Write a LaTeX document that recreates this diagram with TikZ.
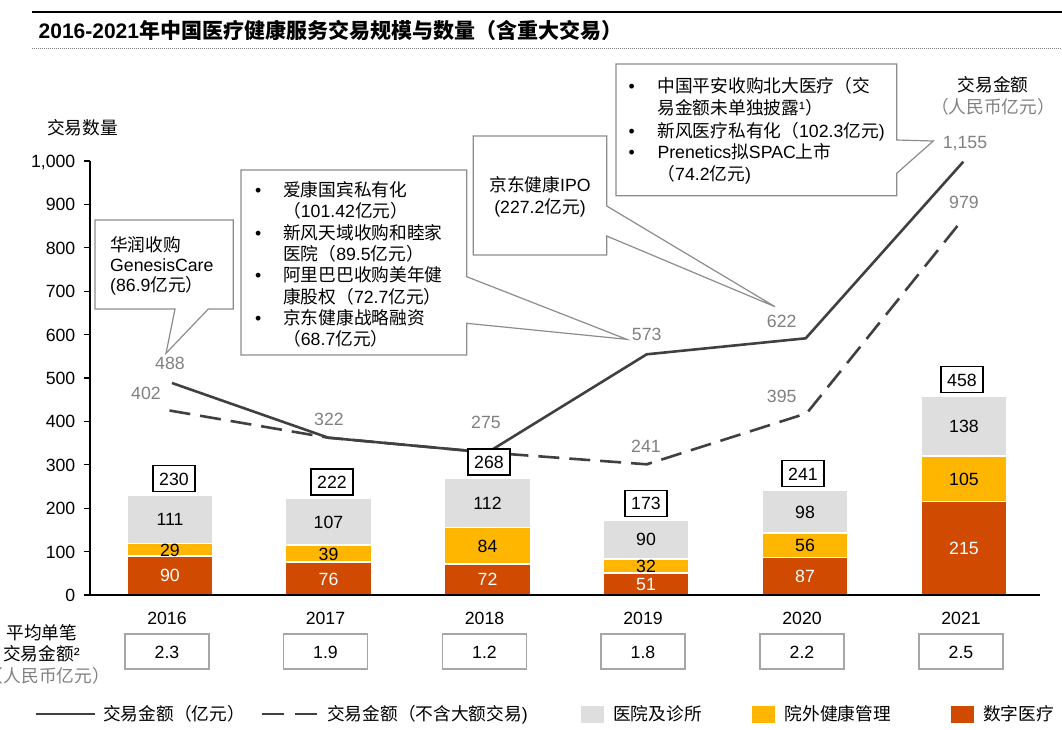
\documentclass[tikz,border=0pt]{standalone}
\usepackage{fontspec}
\setmainfont{Liberation Sans}
\newfontfamily\cjk{Noto Sans CJK SC}
\XeTeXinterchartokenstate=1
\newXeTeXintercharclass\CJKcls
\makeatletter
\def\setcjkrange#1#2{\count@=#1\relax\loop\XeTeXcharclass\count@=\CJKcls\relax\ifnum\count@<#2\relax\advance\count@ by 1\relax\repeat}
\makeatother
\setcjkrange{"4E00}{"9FFF}
\setcjkrange{"3000}{"303F}
\setcjkrange{"FF00}{"FFEF}
\XeTeXinterchartoks 0 \CJKcls = {\cjk}
\XeTeXinterchartoks 4095 \CJKcls = {\cjk}
\XeTeXinterchartoks \CJKcls 0 = {\rmfamily}
\XeTeXinterchartoks \CJKcls 4095 = {\rmfamily}
\newcommand\fsz{\fontsize{17.7}{21}\selectfont}
\definecolor{barg}{HTML}{DEDEDE}
\definecolor{bary}{HTML}{FFB600}
\definecolor{barr}{HTML}{D04A02}
\definecolor{lin}{HTML}{404040}
\definecolor{lgray}{HTML}{808080}
\definecolor{cgray}{HTML}{8C8C8C}
\definecolor{bgray}{HTML}{A6A6A6}
\tikzset{
  lbl/.style={font=\fsz, inner sep=0pt, text height=15.5pt, text depth=2.5pt},
  val/.style={lbl, text=lgray},
  seg/.style={draw=white, line width=1.5pt},
  totbox/.style={lbl, draw=black, line width=1.2pt, fill=white, minimum width=42pt, minimum height=26pt},
  avgbox/.style={lbl, draw=bgray, line width=1.5pt, fill=white, minimum width=84pt, minimum height=35pt},
  callout/.style={draw=cgray, line width=1.2pt, fill=white, line join=miter},
  mainline/.style={lin, line width=2.6pt, line join=round},
  dashline/.style={lin, line width=2.6pt, line join=round, dash pattern=on 21pt off 10pt},
}
\begin{document}
\begin{tikzpicture}[x=1pt,y=-1pt]
\useasboundingbox (0,0) rectangle (1062,729);
% title
\draw[line width=2pt] (32,12) -- (1062,12);
\draw[lgray, line width=1pt, dash pattern=on 1pt off 1pt] (32,48.5) -- (1062,48.5);
\node[lbl, anchor=west, font=\bfseries\fontsize{21}{24}\selectfont, text height=17pt, text depth=3pt] (title) at (38.5,31.5) {2016-2021年中国医疗健康服务交易规模与数量（含重大交易）};
% bars
\foreach \c/\r/\yy/\g/\t in {170/90/29/111/230, 328.5/76/39/107/222, 487.5/72/84/112/268, 646/51/32/90/173, 805/87/56/98/241, 964/215/105/138/458} {
  \pgfmathsetmacro\ya{595-0.434*\r}
  \pgfmathsetmacro\yb{595-0.434*(\r+\yy)}
  \pgfmathsetmacro\yc{595-0.434*\t}
  \filldraw[seg, fill=barr] (\c-43,595) rectangle (\c+43,\ya);
  \filldraw[seg, fill=bary] (\c-43,\ya) rectangle (\c+43,\yb);
  \filldraw[seg, fill=barg] (\c-43,\yb) rectangle (\c+43,\yc);
  \node[lbl, text=white] (r\t) at (\c,{(595+\ya)/2}) {\r};
  \node[lbl] (y\t) at (\c,{(\ya+\yb)/2}) {\yy};
  \node[lbl] (g\t) at (\c,{(\yb+\yc)/2}) {\g};
}
% axes
\draw[black, line width=1.3pt] (90,161) -- (90,595);
\foreach \v in {0,100,...,1000} {
  \draw[black, line width=1.3pt] (84,{595-0.434*\v}) -- (90,{595-0.434*\v});
}
\foreach \v/\s in {0/0,100/100,200/200,300/300,400/400,500/500,600/600,700/700,800/800,900/900,1000/{1,000}} {
  \node[lbl, anchor=east] (tk\v) at (75.5,{595-0.434*\v}) {\s};
}
\draw[black, line width=1.3pt] (89.4,595) -- (1040,595);
\node[lbl] (ylab) at (82.5,128.3) {交易数量};
\node[lbl] (rlab1) at (993,85) {交易金额};
\node[lbl, text=lgray] (rlab2) at (993,107.3) {（人民币亿元）};
% lines
\coordinate (s1) at (172,383);
\coordinate (s2) at (328.3,437.7);
\coordinate (s3) at (487.5,452.5);
\coordinate (s4) at (646.7,354.3);
\coordinate (s5) at (805.7,338.3);
\coordinate (s6) at (963.3,161.7);
\coordinate (d1) at (169.5,410.5);
\coordinate (d4) at (646.7,464.3);
\coordinate (d5) at (806.7,413.3);
\coordinate (d6) at (963,219);
\draw[dashline] (d1) -- (s2) -- (s3) -- (d4) -- (d5) -- (d6);
\draw[mainline] (s1) -- (s2) -- (s3) -- (s4) -- (s5) -- (s6);
% total boxes
\foreach \c/\t in {174/230, 332/222, 489/268, 646/173, 803/241, 962/458} {
  \node[totbox, anchor=south] (tot\t) at (\c,{595-0.434*\t-3}) {\t};
}
% value labels
\node[val] (v488) at (170,363.3) {488};
\node[val] (v402) at (146,393.3) {402};
\node[val] (v322) at (329,419) {322};
\node[val] (v275) at (486,421.7) {275};
\node[val] (v573) at (646.7,334.3) {573};
\node[val] (v241) at (646,445.7) {241};
\node[val] (v622) at (781.7,320.7) {622};
\node[val] (v395) at (781.7,395.7) {395};
\node[val] (v1155) at (965,141.7) {1,155};
\node[val] (v979) at (964,201.7) {979};
% callout 1
\draw[callout] (95,220) -- (233.3,220) -- (233.3,309) -- (208.3,309) -- (166,353.3) -- (175,309) -- (95,309) -- cycle;
\node[lbl, anchor=west] (c1a) at (110,244.5) {华润收购};
\node[lbl, anchor=west] (c1b) at (110,264.8) {GenesisCare};
\node[lbl, anchor=west] (c1c) at (110,285.1) {(86.9亿元）};
% callout 2
\draw[callout] (241,170) -- (466.7,170) -- (466.7,276.7) -- (626.7,339.3) -- (466.7,323.3) -- (466.7,355) -- (241,355) -- cycle;
\foreach \yy in {190,232.6,275.2,317.8} { \node[lbl] (c2b\yy) at (258.3,\yy) {•}; }
\node[lbl, anchor=west] (c2a) at (283,190) {爱康国宾私有化};
\node[lbl, anchor=west] (c2b) at (283,211.3) {（101.42亿元）};
\node[lbl, anchor=west] (c2c) at (283,232.6) {新风天域收购和睦家};
\node[lbl, anchor=west] (c2d) at (283,253.9) {医院（89.5亿元）};
\node[lbl, anchor=west] (c2e) at (283,275.2) {阿里巴巴收购美年健};
\node[lbl, anchor=west] (c2f) at (283,296.5) {康股权（72.7亿元）};
\node[lbl, anchor=west] (c2g) at (283,317.8) {京东健康战略融资};
\node[lbl, anchor=west] (c2h) at (283,339.1) {（68.7亿元）};
% callout 3
\draw[callout] (473.3,136) -- (606.7,136) -- (606.7,206) -- (775,306.7) -- (606.7,236) -- (606.7,255) -- (473.3,255) -- cycle;
\node[lbl] (c3a) at (540,185) {京东健康IPO};
\node[lbl] (c3b) at (540,207.3) {(227.2亿元)};
% callout 4
\draw[callout] (616,64) -- (896.7,64) -- (896.7,140) -- (933.3,141) -- (896.7,173.3) -- (896.7,195.7) -- (616,195.7) -- cycle;
\foreach \yy in {86,130.5,152} { \node[lbl] (c4b\yy) at (631.7,\yy) {•}; }
\node[lbl, anchor=west] (c4a) at (657.3,86) {中国平安收购北大医疗（交};
\node[lbl, anchor=west] (c4b) at (657.3,107.5) {易金额未单独披露¹）};
\node[lbl, anchor=west] (c4c) at (657.3,130.5) {新风医疗私有化（102.3亿元)};
\node[lbl, anchor=west] (c4d) at (657.3,152) {Prenetics拟SPAC上市};
\node[lbl, anchor=west] (c4e) at (657.3,174) {（74.2亿元)};
% years and average boxes
\foreach \c/\yr/\a in {167/2016/2.3, 325.5/2017/1.9, 484.5/2018/1.2, 643/2019/1.8, 802/2020/2.2, 961/2021/2.5} {
  \node[lbl] (yr\yr) at (\c,617.5) {\yr};
  \node[avgbox] (avg\yr) at (\c,651.5) {\a};
}
\node[lbl] (avl1) at (42,633) {平均单笔};
\node[lbl] (avl2) at (41.5,653.7) {交易金额²};
\node[lbl, text=lgray, anchor=east] (avl3) at (110,676) {（人民币亿元）};
% legend
\coordinate (la) at (36,714);
\coordinate (lb) at (95,714);
\draw[mainline] (la) -- (lb);
\node[lbl, anchor=west] (lt1) at (103,714) {交易金额（亿元）};
\coordinate (lc) at (262,714);
\coordinate (ld) at (317,714);
\draw[dashline, dash pattern=on 22pt off 11pt] (lc) -- (ld);
\node[lbl, anchor=west] (lt2) at (327,714) {交易金额（不含大额交易)};
\node[fill=barg, minimum width=23pt, minimum height=17pt, inner sep=0pt] (lg1) at (592,714.4) {};
\node[lbl, anchor=west] (lt3) at (613,714) {医院及诊所};
\node[fill=bary, minimum width=23pt, minimum height=17pt, inner sep=0pt] (lg2) at (763,714.4) {};
\node[lbl, anchor=west] (lt4) at (784.5,714) {院外健康管理};
\node[fill=barr, minimum width=23pt, minimum height=17pt, inner sep=0pt] (lg3) at (962,714.4) {};
\node[lbl, anchor=west] (lt5) at (983,714) {数字医疗};
\end{tikzpicture}
\end{document}
